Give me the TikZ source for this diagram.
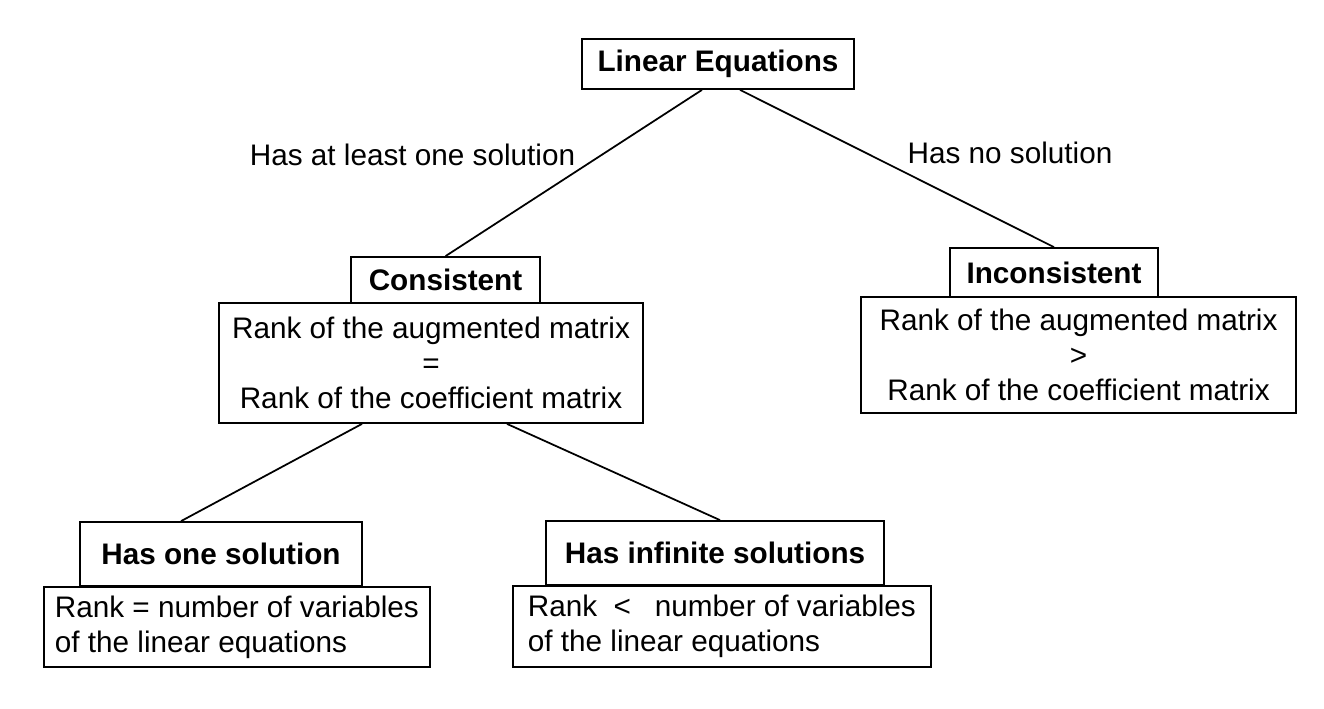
\documentclass[tikz,border=0pt]{standalone}
\usepackage{fontspec}
\setmainfont{Liberation Sans}
\newcommand\diagfont{\fontsize{16.9}{19.9}\selectfont}

\begin{document}
\begin{tikzpicture}[line width=1pt,font=\diagfont,
  titlebox/.style={draw,font=\diagfont\bfseries,inner sep=0pt},
  rankbox/.style={draw,align=center,inner sep=0pt},
  varbox/.style={draw,align=left,inner ysep=0pt,anchor=north west}]
  \useasboundingbox (0,0) rectangle (26.48,-14.16);
  % root
  \node[titlebox,minimum width=5.44cm,minimum height=1cm] (lin) at (14.36,-1.28) {Linear Equations};
  % consistent branch
  \node[titlebox,minimum width=3.78cm,minimum height=0.92cm] (cons) at (8.91,-5.60) {Consistent};
  \node[rankbox,minimum width=8.48cm,minimum height=2.4cm] (consrank) at (8.62,-7.26)
    {Rank of the augmented matrix\\=\\Rank of the coefficient matrix};
  % inconsistent branch
  \node[titlebox,minimum width=4.16cm,minimum height=0.98cm] (incons) at (21.08,-5.45) {Inconsistent};
  \node[rankbox,minimum width=8.70cm,minimum height=2.32cm] (inconsrank) at (21.57,-7.10)
    {Rank of the augmented matrix\\>\\Rank of the coefficient matrix};
  % one / infinite solutions
  \node[titlebox,minimum width=5.64cm,minimum height=1.28cm] (one) at (4.42,-11.08) {Has one solution};
  \node[varbox,inner xsep=0.22cm,minimum height=1.6cm] (onevar) at (0.86,-11.72)
    {Rank = number of variables\\of the linear equations};
  \node[titlebox,minimum width=6.76cm,minimum height=1.28cm] (inf) at (14.30,-11.06) {Has infinite solutions};
  \node[varbox,inner xsep=0.3cm,minimum height=1.62cm] (infvar) at (10.24,-11.70)
    {Rank~~<~~\hspace{0.25em}number of variables\\of the linear equations};
  % branches
  \draw ([xshift=-0.32cm]lin.south) -- (cons.north);
  \draw ([xshift=0.44cm]lin.south) -- (incons.north);
  \draw ([xshift=-1.38cm]consrank.south) -- ([xshift=-0.8cm]one.north);
  \draw ([xshift=1.52cm]consrank.south) -- ([xshift=0.1cm]inf.north);
  \node[anchor=base] (atleast) at (8.25,-3.30) {Has at least one solution};
  \node[anchor=base] (nosol) at (20.20,-3.26) {Has no solution};
\end{tikzpicture}
\end{document}
